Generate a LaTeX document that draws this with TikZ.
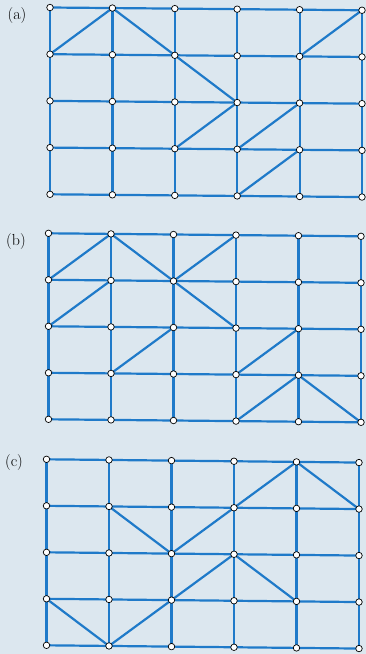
\documentclass[tikz,border=0pt]{standalone}
\definecolor{bgc}{HTML}{DCE7EF}
\definecolor{lnc}{HTML}{1F7AC9}
\pgfdeclarelayer{bgfill}
\pgfdeclarelayer{edges}
\pgfsetlayers{bgfill,edges,main}
\newcommand{\mkpanel}[6]{%
  \foreach \i in {0,...,5}{\foreach \j in {0,...,4}{%
    \node[dot] (#1-\i-\j) at ({#2+\i*#3},{#4+\j*#5+\i*#6}) {};}}%
  \begin{pgfonlayer}{edges}
  \foreach \i in {0,...,4}{\foreach \j in {0,...,4}{%
    \pgfmathtruncatemacro{\k}{\i+1}%
    \draw[edge] (#1-\i-\j.center) -- (#1-\k-\j.center);}}%
  \foreach \i in {0,...,5}{\foreach \j in {0,...,3}{%
    \pgfmathtruncatemacro{\k}{\j+1}%
    \draw[edge] (#1-\i-\j.center) -- (#1-\i-\k.center);}}%
  \end{pgfonlayer}}
\newcommand{\diag}[3]{%
  \begin{pgfonlayer}{edges}
  \foreach \p/\q in {#2}{\draw[edge] (#1-\p.center) -- (#1-\q.center);}%
  \end{pgfonlayer}}
\begin{document}
\begin{tikzpicture}[x=1pt,y=-1pt,
  dot/.style={circle,draw=black,fill=white,inner sep=0pt,minimum size=6.5pt,line width=0.7pt},
  edge/.style={lnc,line width=2.2pt},
  lab/.style={font=\fontsize{16}{18}\selectfont,inner sep=0pt}]
\begin{pgfonlayer}{bgfill}
\fill[bgc] (0,0) rectangle (366,654);
\end{pgfonlayer}
\useasboundingbox (0,0) rectangle (366,654);
% panel (a)
\node[lab] (la) at (17,16) {(a)};
\mkpanel{a}{50}{62.4}{7.5}{46.7}{0.55}
\diag{a}{0-1/1-0, 1-0/2-1, 2-1/3-2, 2-3/3-2, 3-3/4-2, 3-4/4-3, 4-1/5-0}{}
% panel (b)
\node[lab] (lb) at (16,242) {(b)};
\mkpanel{b}{48.5}{62.5}{233.3}{46.5}{0.6}
\diag{b}{0-1/1-0, 1-0/2-1, 2-1/3-0, 0-2/1-1, 2-1/3-2, 1-3/2-2, 3-3/4-2, 3-4/4-3, 4-3/5-4}{}
% panel (c)
\node[lab] (lc) at (14,463) {(c)};
\mkpanel{c}{46.5}{62.5}{459.3}{46.5}{0.65}
\diag{c}{1-1/2-2, 2-2/3-1, 3-1/4-0, 4-0/5-1, 2-3/3-2, 3-2/4-3, 0-3/1-4, 1-4/2-3}{}
\end{tikzpicture}
\end{document}
